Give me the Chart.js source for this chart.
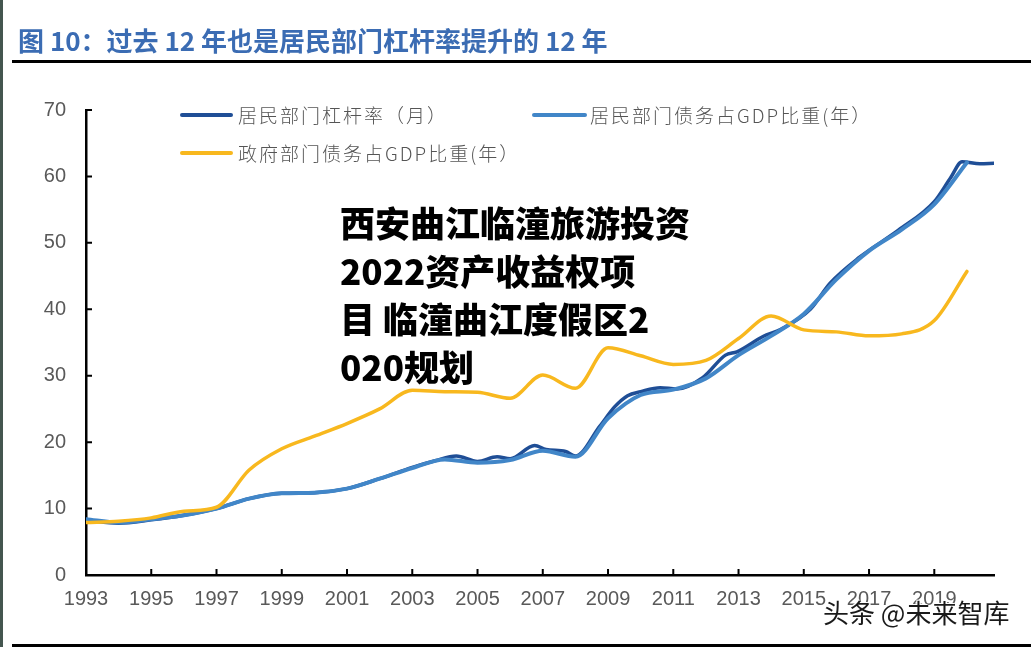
<!DOCTYPE html>
<html><head><meta charset="utf-8">
<script src="https://cdn.jsdelivr.net/npm/chart.js@4.4.1/dist/chart.umd.min.js"></script>
<style>
html,body{margin:0;padding:0;background:#fff;width:1031px;height:647px;overflow:hidden;}
#wrap{position:relative;width:1031px;height:647px;}
#c{position:absolute;left:0;top:0;}
.abs{position:absolute;white-space:nowrap;}
#strip{left:0;top:0;width:3px;height:647px;background:#44564f;}
#title{left:18px;top:22px;font-family:"Noto Sans CJK SC";font-weight:bold;font-size:26px;color:#3b6cb3;line-height:36px;}
#rule1{left:12px;top:60px;width:1019px;height:3px;background:#000;}
#rule2{left:12px;top:644px;width:1019px;height:3px;background:#000;}
.sw{height:4px;border-radius:2px;}
.lg{font-family:"Noto Sans CJK SC";font-weight:300;font-size:19px;color:#555;letter-spacing:2px;line-height:24px;}
#wm{left:340px;top:198px;font-family:"Noto Sans CJK SC";font-weight:900;font-size:35px;color:#000;line-height:48px;}
#wm2{left:823px;top:597px;font-family:"Noto Sans CJK SC";font-size:26px;color:#1a1a1a;line-height:30px;text-shadow:0 0 2px #fff,1px 1px 0 #fff,-1px -1px 0 #fff;}
</style></head>
<body><div id="wrap">
<canvas id="c" width="1031" height="647"></canvas>
<div class="abs" id="strip"></div>
<div class="abs" id="title">图 10：过去 12 年也是居民部门杠杆率提升的 12 年</div>
<div class="abs" id="rule1"></div>
<div class="abs" id="rule2"></div>
<div class="abs sw" style="left:180px;top:113px;width:53px;background:#1f4e96;"></div>
<div class="abs lg" style="left:238px;top:103px;">居民部门杠杆率（月）</div>
<div class="abs sw" style="left:532px;top:113px;width:55px;background:#4186c8;"></div>
<div class="abs lg" style="left:590px;top:103px;">居民部门债务占GDP比重(年）</div>
<div class="abs sw" style="left:180px;top:151px;width:53px;background:#f8b81e;"></div>
<div class="abs lg" style="left:238px;top:141px;">政府部门债务占GDP比重(年）</div>
<div class="abs" id="wm">西安曲江临潼旅游投资<br>2022资产收益权项<br>目 临潼曲江度假区2<br>020规划</div>
<div class="abs" id="wm2">头条 @未来智库</div>
</div>
<script>
const years = [1993,1994,1995,1996,1997,1998,1999,2000,2001,2002,2003,2004,2005,2006,2007,2008,2009,2010,2011,2012,2013,2014,2015,2016,2017,2018,2019,2020];
const govDebtRatio = [7.9,8.1,8.6,9.6,10.2,15.8,19.0,20.9,22.8,25.0,27.8,27.6,27.5,26.6,30.1,28.1,34.2,33.0,31.7,32.3,35.6,39.0,36.9,36.6,36.0,36.3,38.3,45.7];
const hhDebtRatio = [8.4,7.9,8.4,9.0,10.0,11.5,12.3,12.4,13.0,14.5,16.1,17.4,16.9,17.3,18.7,17.8,23.6,27.1,27.9,29.6,33.1,36.0,39.3,44.5,48.8,52.0,55.8,62.1];
const hhLevMonthX = [1993.0,1994.0,1995.0,1996.0,1997.0,1998.0,1999.0,2000.0,2001.0,2002.0,2003.0,2003.7,2004.35,2005.0,2005.6,2006.0,2006.75,2007.1,2007.7,2008.0,2008.75,2009.2,2009.6,2010.0,2010.6,2011.1,2011.9,2012.6,2012.95,2013.75,2014.3,2015.2,2015.8,2016.7,2017.9,2019.0,2019.5,2019.85,2020.4,2020.83];
const hhLevMonthY = [8.2,7.8,8.3,9.0,10.0,11.5,12.3,12.4,13.0,14.5,16.2,17.2,17.9,17.1,17.8,17.5,19.5,18.9,18.6,17.9,22.4,25.3,27.0,27.6,28.2,28.0,29.7,33.1,33.6,35.9,37.0,40.0,43.9,47.8,51.9,56.2,59.8,62.2,61.9,62.0];
const xTickYears = [1993,1995,1997,1999,2001,2003,2005,2007,2009,2011,2013,2015,2017,2019];
const yTicks = [0,10,20,30,40,50,60,70];

const toXY = (xs, ys) => xs.map((x, i) => ({x: x, y: ys[i]}));
const target = {left: 86, top: 110, right: 994, bottom: 575};

const inwardTicks = {
  id: 'inwardTicks',
  afterDraw(chart) {
    const {ctx, chartArea: a, scales: {x, y}} = chart;
    ctx.save();
    ctx.strokeStyle = '#000';
    ctx.lineWidth = 2;
    ctx.beginPath();
    xTickYears.forEach(v => { const px = x.getPixelForValue(v); ctx.moveTo(px, a.bottom); ctx.lineTo(px, a.bottom - 6); });
    yTicks.forEach(v => { const py = y.getPixelForValue(v); ctx.moveTo(a.left, py); ctx.lineTo(a.left + 6, py); });
    ctx.stroke();
    ctx.restore();
  }
};

const tickFont = {family: 'Liberation Sans', size: 20};
const chart = new Chart(document.getElementById('c'), {
  type: 'line',
  data: {
    datasets: [
      {label: '政府部门债务占GDP比重(年）', data: toXY(years, govDebtRatio), borderColor: '#f8b81e', borderWidth: 3.5, order: 0},
      {label: '居民部门债务占GDP比重(年）', data: toXY(years, hhDebtRatio), borderColor: '#4186c8', borderWidth: 4, order: 1},
      {label: '居民部门杠杆率（月）', data: toXY(hhLevMonthX, hhLevMonthY), borderColor: '#1f4e96', borderWidth: 3.5, order: 2}
    ]
  },
  options: {
    responsive: false,
    animation: false,
    layout: {padding: {left: 0, top: 99, right: 37, bottom: 0}},
    plugins: {legend: {display: false}, tooltip: {enabled: false}},
    elements: {
      point: {radius: 0},
      line: {cubicInterpolationMode: 'monotone', borderCapStyle: 'round', borderJoinStyle: 'round', fill: false}
    },
    scales: {
      x: {
        type: 'linear', min: 1993, max: 2020.83,
        afterBuildTicks: s => { s.ticks = xTickYears.map(v => ({value: v})); },
        afterFit: s => { s.height = 72; },
        grid: {drawOnChartArea: false, drawTicks: true, tickLength: 12, tickColor: 'rgba(0,0,0,0)'},
        border: {display: true, color: '#000', width: 2.5},
        ticks: {padding: 0, maxRotation: 0, autoSkip: false, color: '#595959', font: tickFont, callback: v => String(v)}
      },
      y: {
        min: 0, max: 70,
        afterBuildTicks: s => { s.ticks = yTicks.map(v => ({value: v})); },
        afterFit: s => { s.width = 86; },
        grid: {drawOnChartArea: false, drawTicks: true, tickLength: 20, tickColor: 'rgba(0,0,0,0)'},
        border: {display: true, color: '#000', width: 2.5},
        ticks: {padding: 0, color: '#595959', font: tickFont, callback: v => String(v)}
      }
    }
  },
  plugins: [inwardTicks]
});
const a = chart.chartArea;
const p = chart.options.layout.padding;
p.top += target.top - a.top;
p.right += a.right - target.right;
chart.update('none');
</script>
</body></html>
